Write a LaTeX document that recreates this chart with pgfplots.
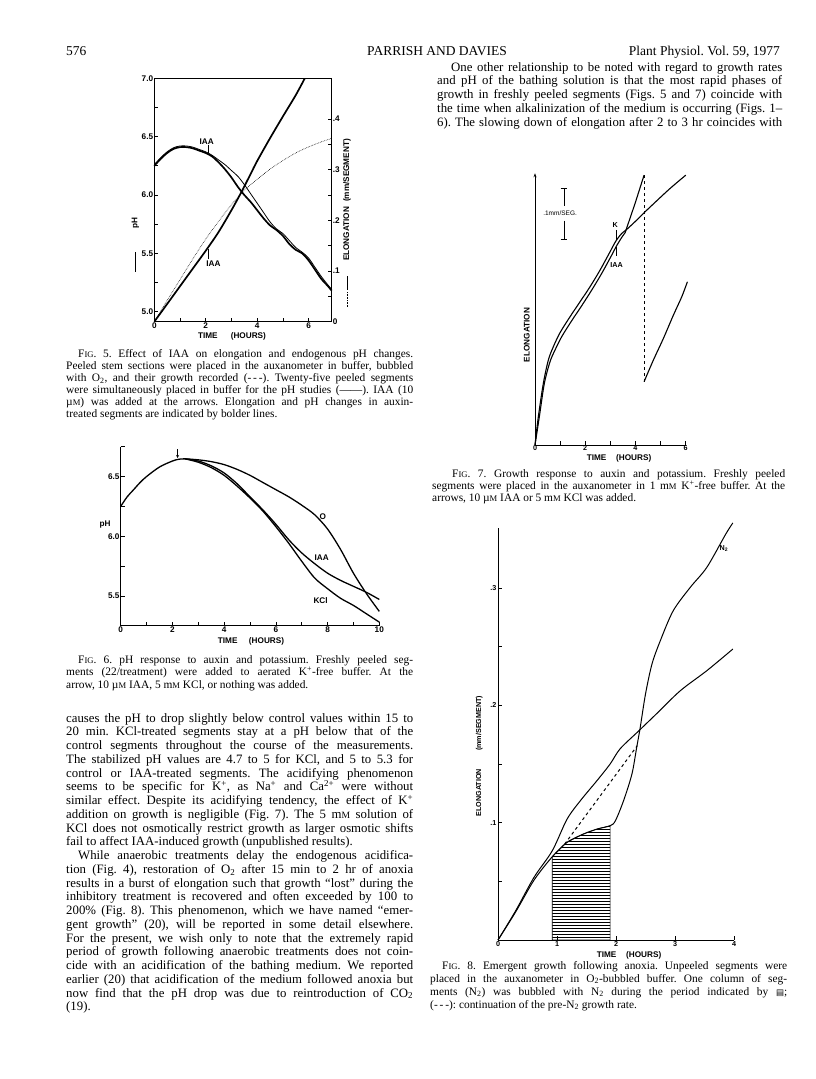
\documentclass[border=0pt]{standalone}
\usepackage{fontspec}
\setmainfont{Liberation Serif}
\newfontfamily\hv{Liberation Sans}
\newfontfamily\djv{DejaVu Sans}
\usepackage{pgfplots}
\pgfplotsset{compat=1.18}
\usetikzlibrary{patterns,arrows.meta}
\frenchspacing

% fonts
\newcommand\lbl{\hv\bfseries\fontsize{8.2}{9}\selectfont}
\newcommand\lbs{\hv\bfseries\fontsize{7.2}{8}\selectfont}
\newcommand\bodyf{\fontsize{12.8}{13.75}\selectfont}
\newcommand\capf{\fontsize{11.4}{12}\selectfont}
\newcommand\sm[1]{{\fontsize{8.6}{8}\selectfont #1}}
\newcommand\smb[1]{{\fontsize{9.6}{9}\selectfont #1}}
\newcommand\FIG{F\sm{IG}.}
% text lines: justified / left
\newcommand\J[4]{\node[anchor=base west,inner sep=0pt] at (#1,#2) {\makebox[#3pt][s]{#4}};}
\newcommand\T[3]{\node[anchor=base west,inner sep=0pt] at (#1,#2) {#3};}

\pgfplotsset{pap/.style={
  scale only axis, clip=false, anchor=south west,
  axis line style={line width=0.8pt},
  every tick/.style={black, line width=0.7pt},
  major tick length=4pt, minor tick length=4pt,
  tick align=inside,
  tick label style={font=\lbl, inner sep=1pt},
  /pgf/number format/assume math mode=true}}

\begin{document}
\begin{tikzpicture}
\fill[white] (0,0) rectangle (816pt,-1079pt);
\useasboundingbox (0,0) rectangle (816pt,-1079pt);

% ---------- Fig. 5: pH (left axis) ----------
\begin{axis}[pap, at={(154.3pt,-321.7pt)}, width=177.4pt, height=243.4pt,
  xmin=0, xmax=6.9, ymin=4.914, ymax=7.0,
  xtick={0,2,4,6}, minor xtick={1,3,5}, xtick pos=bottom,
  ytick={5,5.5,6,6.5,7}, yticklabels={5.0,5.5,6.0,6.5,7.0},
  minor ytick={5.25,5.75,6.25,6.75}, ytick pos=left]
\addplot[line width=0.8pt, smooth] coordinates {
 (0,6.26) (0.25,6.32) (0.5,6.37) (0.75,6.405) (1,6.42) (1.25,6.42) (1.5,6.41)
 (1.75,6.39) (2,6.37) (2.25,6.34) (2.5,6.30) (2.75,6.26) (3,6.21) (3.25,6.16)
 (3.5,6.09) (3.75,6.01) (4,5.93) (4.25,5.85) (4.5,5.77) (4.75,5.71) (5,5.67)
 (5.25,5.61) (5.5,5.55) (5.75,5.51) (6,5.46) (6.25,5.38) (6.5,5.30) (6.75,5.23) (6.9,5.19)};
\addplot[line width=1.7pt, smooth] coordinates {
 (0,6.25) (0.25,6.31) (0.5,6.36) (0.75,6.395) (1,6.41) (1.25,6.41) (1.5,6.40)
 (1.75,6.38) (2,6.36) (2.25,6.33) (2.5,6.28) (2.75,6.22) (3,6.15) (3.25,6.07)
 (3.5,6.0) (3.75,5.94) (4,5.87) (4.25,5.80) (4.5,5.74) (4.75,5.70) (5,5.65)
 (5.25,5.58) (5.5,5.53) (5.75,5.50) (6,5.44) (6.25,5.36) (6.5,5.28) (6.75,5.22) (6.9,5.18)};
\node[font=\lbl] at (axis cs:2.04,6.46) {IAA};
\draw[line width=0.7pt] (axis cs:2.1,6.43) -- (axis cs:2.1,6.36);
\node[font=\lbl] at (axis cs:2.3,5.415) {IAA};
\draw[line width=0.7pt] (axis cs:2.1,5.45) -- (axis cs:2.1,5.535);
\end{axis}

% ---------- Fig. 5: elongation (right axis) ----------
\begin{axis}[pap, at={(154.3pt,-321.7pt)}, width=177.4pt, height=243.4pt,
  xmin=0, xmax=6.9, ymin=0, ymax=0.4804,
  hide x axis, axis y line*=right,
  ytick={0,0.1,0.2,0.3,0.4}, yticklabels={0,.1,.2,.3,.4},
  minor ytick={0.05,0.15,0.25,0.35}]
\addplot[line width=0.6pt, densely dotted, smooth] coordinates {
 (0,0) (0.5,0.042) (1,0.083) (1.5,0.124) (2,0.163) (2.5,0.198) (3,0.231)
 (3.5,0.259) (4,0.281) (4.5,0.301) (5,0.318) (5.5,0.333) (6,0.345) (6.5,0.355) (6.9,0.362)};
\addplot[line width=1.7pt, smooth] coordinates {
 (0,0) (0.5,0.035) (1,0.07) (1.5,0.105) (2,0.14) (2.5,0.177) (3,0.22)
 (3.4,0.257) (3.75,0.292) (4,0.317) (4.5,0.362) (5,0.405) (5.5,0.447) (5.85,0.48)};
\end{axis}

% ---------- Fig. 6 ----------
\begin{axis}[pap, at={(120.7pt,-625.7pt)}, width=258.6pt, height=179pt,
  xmin=0, xmax=10, ymin=5.25, ymax=6.75,
  axis x line*=bottom, axis y line*=left,
  x axis line style={-}, y axis line style={-},
  xtick={0,2,4,6,8,10}, minor xtick={1,3,5,7,9},
  ytick={5.5,6,6.5}, yticklabels={5.5,6.0,6.5}, minor ytick={5.75,6.25,6.75}]
\addplot[line width=1.3pt, smooth] coordinates {
 (0,6.25) (0.25,6.33) (0.5,6.39) (0.75,6.45) (1,6.50) (1.5,6.58) (2,6.63) (2.25,6.645) (2.5,6.648)
 (3,6.64) (3.5,6.625) (4,6.60) (4.5,6.56) (5,6.51) (5.5,6.45) (6,6.39) (6.5,6.33) (7,6.26)
 (7.5,6.18) (8,6.06) (8.5,5.89) (9,5.69) (9.5,5.52) (10,5.37)};
\addplot[line width=1.3pt, smooth] coordinates {
 (2.5,6.648) (3,6.63) (3.5,6.59) (4,6.53) (4.5,6.44) (5,6.33) (5.5,6.22) (6,6.10) (6.5,5.97)
 (7,5.86) (7.5,5.77) (8,5.69) (8.5,5.63) (9,5.58) (9.5,5.53) (10,5.47)};
\addplot[line width=1.3pt, smooth] coordinates {
 (2.5,6.648) (3,6.62) (3.5,6.575) (4,6.51) (4.5,6.42) (5,6.32) (5.5,6.21) (6,6.08) (6.5,5.94)
 (7,5.79) (7.5,5.65) (8,5.56) (8.5,5.48) (9,5.42) (9.5,5.35) (10,5.28)};
\draw[line width=0.7pt, -{Stealth[length=3pt,width=3pt]}] (axis cs:2.2,6.73) -- (axis cs:2.2,6.655);
\node[font=\lbl] at (axis cs:7.82,6.16) {O};
\node[font=\lbl] at (axis cs:7.77,5.816) {IAA};
\node[font=\lbl] at (axis cs:7.73,5.46) {KCl};
\end{axis}

% ---------- Fig. 7 ----------
\begin{axis}[pap, at={(535pt,-445pt)}, width=150.7pt, height=271.7pt,
  xmin=0, xmax=6, ymin=0, ymax=0.533,
  axis x line*=bottom, axis y line*=left,
  x axis line style={-}, y axis line style={-{Stealth[length=4pt,width=3pt]}},
  xtick={0,2,4,6}, minor xtick={1,3,5}, ytick=\empty,
  tick label style={font=\lbs, inner sep=0.5pt}]
\addplot[line width=1.1pt, smooth, tension=0.5] coordinates {
 (0,0) (0.133,0.0556) (0.332,0.1209) (0.531,0.1667) (0.730,0.1928) (0.996,0.2203)
 (1.394,0.2516) (1.793,0.2810) (2.191,0.3105) (2.590,0.3431) (2.988,0.3791)
 (3.227,0.4007) (3.453,0.4150) (3.652,0.4229) (4.050,0.4412) (4.343,0.4556)
 (4.847,0.4791) (5.378,0.5033) (6.003,0.5294)};
\addplot[line width=1.1pt, smooth, tension=0.5] coordinates {
 (0,0) (0.173,0.0556) (0.372,0.1209) (0.598,0.1634) (0.797,0.1863) (1.062,0.2124)
 (1.461,0.2438) (1.859,0.2732) (2.258,0.3039) (2.656,0.3366) (3.054,0.3725)
 (3.227,0.3889) (3.453,0.4072) (3.586,0.4163)};
\addplot[line width=1.1pt] coordinates {(3.586,0.4163) (3.984,0.4739) (4.343,0.5294)};
\addplot[line width=0.7pt, dashed] coordinates {(4.343,0.5294) (4.343,0.1242)};
\addplot[line width=1.1pt, smooth] coordinates {
 (4.343,0.1242) (4.714,0.1667) (5.113,0.2092) (5.511,0.2549) (5.843,0.2908) (6.069,0.3203)};
% scale bar
\draw[line width=0.7pt] (axis cs:1.155,0.5033) -- (axis cs:1.155,0.468)
  (axis cs:1.155,0.44) -- (axis cs:1.155,0.4033)
  (axis cs:1.02,0.5033) -- (axis cs:1.29,0.5033)
  (axis cs:1.02,0.4033) -- (axis cs:1.29,0.4033);
\node[font=\hv\fontsize{6.5}{7}\selectfont] at (axis cs:1.0,0.454) {.1mm/SEG.};
\node[font=\lbs] at (axis cs:3.19,0.431) {K};
\draw[line width=0.6pt] (axis cs:3.227,0.422) -- (axis cs:3.227,0.403);
\node[font=\lbs] at (axis cs:3.25,0.353) {IAA};
\draw[line width=0.6pt] (axis cs:3.227,0.371) -- (axis cs:3.227,0.389);
\end{axis}

% ---------- Fig. 8 ----------
\begin{axis}[pap, at={(498pt,-940pt)}, width=236pt, height=412pt,
  xmin=0, xmax=4, ymin=0, ymax=0.3512,
  axis x line*=bottom, axis y line*=left,
  x axis line style={-}, y axis line style={-},
  xtick={0,1,2,3,4}, ytick={0.1,0.2,0.3}, yticklabels={.1,.2,.3},
  minor ytick={0.05,0.15,0.25},
  tick label style={font=\lbs, inner sep=1.5pt}]
\addplot[draw=black, line width=0.6pt, pattern=horizontal lines] coordinates {
 (0.92,0) (0.92,0.071) (1.17,0.0833) (1.45,0.0904) (1.68,0.0946) (1.9,0.0974) (1.9,0)} -- cycle;
\addplot[line width=1.0pt, smooth] coordinates {
 (0,0) (0.3,0.025) (0.61,0.0534) (0.92,0.0761) (1.17,0.103) (1.4,0.119) (1.68,0.136)
 (1.9,0.150) (2.07,0.163) (2.38,0.178) (2.69,0.193) (3.09,0.2125) (3.54,0.2296) (3.98,0.248)};
\addplot[line width=1.0pt, smooth, tension=0.5] coordinates {
 (0,0) (0.3,0.024) (0.61,0.051) (0.92,0.071) (1.17,0.0833) (1.45,0.0904) (1.68,0.0946)
 (1.9,0.0974) (1.99,0.1017) (2.13,0.119) (2.27,0.1415) (2.35,0.164) (2.41,0.181)
 (2.5,0.2097) (2.61,0.2353) (2.75,0.255) (2.97,0.2807) (3.26,0.3007) (3.54,0.3177)
 (3.86,0.346) (3.98,0.3555)};
\addplot[line width=1.0pt, dashed] coordinates {(1.13,0.0818) (2.36,0.1656)};
\node[font=\lbs] at (axis cs:3.83,0.334) {N\textsubscript{2}};
\end{axis}

% ---------- page text and outer labels (1pt = 1px, y downward) ----------
\begin{scope}[x=1pt,y=-1pt]
% header
\node[anchor=base west,inner sep=0pt,font=\fontsize{13.5}{14}\selectfont] at (66,55) {576};
\node[anchor=base,inner sep=0pt,font=\fontsize{13.5}{14}\selectfont] at (437,55) {PARRISH AND DAVIES};
\node[anchor=base east,inner sep=0pt,font=\fontsize{13.5}{14}\selectfont] at (780,55) {Plant Physiol. Vol. 59, 1977};

% fig 5 outer labels
\node[rotate=90,font=\lbl] at (135.5,223) {pH};
\draw[line width=0.8pt] (135,252) -- (135,272);
\node[rotate=90,font=\lbl] at (347,200) {ELONGATION\hspace{0.6em}(mm/SEGMENT)};
\draw[line width=0.8pt] (347,276) -- (347,290);
\draw[line width=0.6pt, densely dotted] (347,292) -- (347,307);
\node[font=\lbl] at (232,336) {TIME\hspace{1.6em}(HOURS)};
% fig 6
\node[font=\lbl] at (105,525) {pH};
\node[font=\lbl] at (251,641.5) {TIME\hspace{1.4em}(HOURS)};
% fig 7
\node[rotate=90,font=\lbl] at (526.7,335) {ELONGATION};
\node[font=\lbl] at (619,458) {TIME\hspace{1.2em}(HOURS)};
% fig 8
\node[rotate=90,font=\lbs] at (479.3,756) {ELONGATION\hspace{2.5em}(mm/SEGMENT)};
\node[font=\lbl] at (629,955) {TIME\hspace{1.2em}(HOURS)};

% right column body
\begin{scope}[font=\bodyf]
\J{451}{71}{331}{One other relationship to be noted with regard to growth rates}
\J{437}{84.75}{345}{and pH of the bathing solution is that the most rapid phases of}
\J{437}{98.5}{345}{growth in freshly peeled segments (Figs. 5 and 7) coincide with}
\J{437}{112.25}{345}{the time when alkalinization of the medium is occurring (Figs. 1–}
\J{437}{126}{345}{6). The slowing down of elongation after 2 to 3 hr coincides with}
\end{scope}

% captions
\begin{scope}[font=\capf]
\J{78}{357.5}{335}{\FIG{} 5. Effect of IAA on elongation and endogenous pH changes.}
\J{66}{369.5}{347}{Peeled stem sections were placed in the auxanometer in buffer, bubbled}
\J{66}{381.5}{347}{with O\textsubscript{2}, and their growth recorded (-\,-\,-). Twenty-five peeled segments}
\J{66}{393.5}{347}{were simultaneously placed in buffer for the pH studies (——). IAA (10}
\J{66}{405.5}{347}{µ\sm{M}) was added at the arrows. Elongation and pH changes in auxin-}
\T{66}{417.5}{treated segments are indicated by bolder lines.}

\J{78}{663.5}{335}{\FIG{} 6. pH response to auxin and potassium. Freshly peeled seg-}
\J{66}{675.8}{347}{ments (22/treatment) were added to aerated K\textsuperscript{+}-free buffer. At the}
\T{66}{688}{arrow, 10 µ\sm{M} IAA, 5 m\sm{M} KCl, or nothing was added.}

\J{452}{477}{333}{\FIG{} 7. Growth response to auxin and potassium. Freshly peeled}
\J{432}{489.2}{353}{segments were placed in the auxanometer in 1 m\sm{M} K\textsuperscript{+}-free buffer. At the}
\T{432}{501.4}{arrows, 10 µ\sm{M} IAA or 5 m\sm{M} KCl was added.}

\J{442}{969.5}{345}{\FIG{} 8. Emergent growth following anoxia. Unpeeled segments were}
\J{430}{982.3}{357}{placed in the auxanometer in O\textsubscript{2}-bubbled buffer. One column of seg-}
\J{430}{995.1}{357}{ments (N\textsubscript{2}) was bubbled with N\textsubscript{2} during the period indicated by {\djv\fontsize{8.5}{8}\selectfont ▤};}
\T{430}{1008}{(-\,-\,-): continuation of the pre-N\textsubscript{2} growth rate.}
\end{scope}

% left column body
\begin{scope}[font=\bodyf]
\J{66}{722}{347}{causes the pH to drop slightly below control values within 15 to}
\J{66}{735.75}{347}{20 min. KCl-treated segments stay at a pH below that of the}
\J{66}{749.5}{347}{control segments throughout the course of the measurements.}
\J{66}{763.25}{347}{The stabilized pH values are 4.7 to 5 for KCl, and 5 to 5.3 for}
\J{66}{777}{347}{control or IAA-treated segments. The acidifying phenomenon}
\J{66}{790.75}{347}{seems to be specific for K\textsuperscript{+}, as Na\textsuperscript{+} and Ca\textsuperscript{2+} were without}
\J{66}{804.5}{347}{similar effect. Despite its acidifying tendency, the effect of K\textsuperscript{+}}
\J{66}{818.25}{347}{addition on growth is negligible (Fig. 7). The 5 m\smb{M} solution of}
\J{66}{832}{347}{KCl does not osmotically restrict growth as larger osmotic shifts}
\T{66}{845.75}{fail to affect IAA-induced growth (unpublished results).}
\J{78}{859.5}{335}{While anaerobic treatments delay the endogenous acidifica-}
\J{66}{873.25}{347}{tion (Fig. 4), restoration of O\textsubscript{2} after 15 min to 2 hr of anoxia}
\J{66}{887}{347}{results in a burst of elongation such that growth ``lost'' during the}
\J{66}{900.75}{347}{inhibitory treatment is recovered and often exceeded by 100 to}
\J{66}{914.5}{347}{200\% (Fig. 8). This phenomenon, which we have named ``emer-}
\J{66}{928.25}{347}{gent growth'' (20), will be reported in some detail elsewhere.}
\J{66}{942}{347}{For the present, we wish only to note that the extremely rapid}
\J{66}{955.75}{347}{period of growth following anaerobic treatments does not coin-}
\J{66}{969.5}{347}{cide with an acidification of the bathing medium. We reported}
\J{66}{983.25}{347}{earlier (20) that acidification of the medium followed anoxia but}
\J{66}{997}{347}{now find that the pH drop was due to reintroduction of CO\textsubscript{2}}
\T{66}{1010.75}{(19).}
\end{scope}
\end{scope}
\end{tikzpicture}
\end{document}
